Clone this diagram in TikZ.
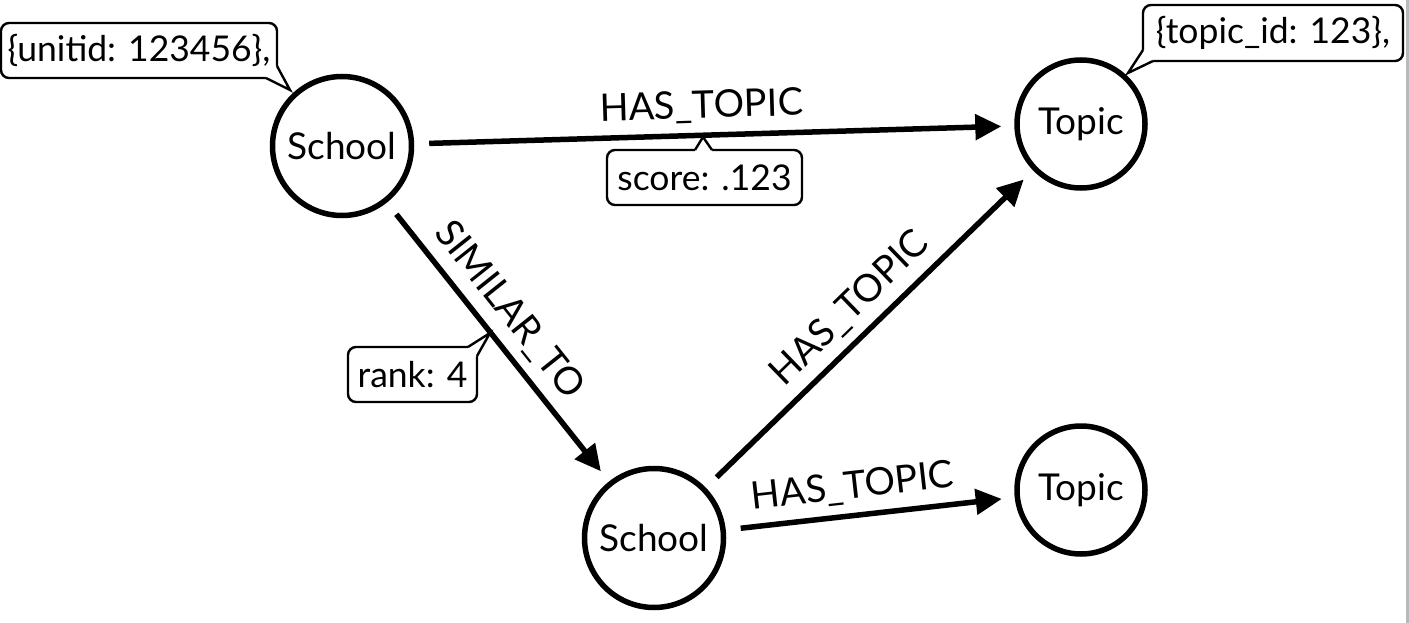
\documentclass[tikz,border=0pt]{standalone}
\usepackage{fontspec}
\setmainfont{Lato}
\usetikzlibrary{arrows.meta}
\begin{document}
\begin{tikzpicture}[x=1pt,y=-1pt,
  ent/.style={circle,draw,line width=5.5pt,inner sep=0pt,font=\fontsize{37}{44}\selectfont},
  rel/.style={line width=5.5pt,-{Triangle[length=26pt,width=25pt]},shorten <=15pt,shorten >=13pt},
  rlab/.style={sloped,above=9pt,inner sep=0pt,font=\fontsize{38}{44}\selectfont},
  prop/.style={draw,line width=2.4pt,rounded corners=8pt,inner sep=0pt,font=\fontsize{35.5}{42}\selectfont},
  ptr/.style={line width=2.4pt,line join=miter}
]
\useasboundingbox (0,0) rectangle (1409,623);
\fill[white] (0,0) rectangle (1409,623);
\fill[gray!55] (1406,0) rectangle (1409,623);

% entities
\node[ent,minimum size=139pt] (s1) at (342,146) {School};
\node[ent,minimum size=128pt] (t1) at (1081,124) {Topic};
\node[ent,minimum size=139pt] (s2) at (654,538) {School};
\node[ent,minimum size=128pt] (t2) at (1081,490) {Topic};

% relationships
\draw[rel] (s1) -- node[rlab,pos=0.48] (l1) {HAS\_TOPIC} (t1);
\draw[rel] (s1) -- node[rlab,pos=0.45] (l2) {SIMILAR\_TO} (s2);
\draw[rel] (s2) -- node[rlab,pos=0.5] (l3) {HAS\_TOPIC} (t1);
\draw[rel] (s2) -- node[rlab,pos=0.45] (l4) {HAS\_TOPIC} (t2);

% property callouts
\node[prop,minimum width=276pt,minimum height=55pt] (p1) at (139,50.5) {\{unitid: 123456\},};
\coordinate (p1tip) at (290,90);
\fill[white] (277,66) -- (p1tip) -- (266,78) -- (266,66) -- cycle;
\draw[ptr] (277,66) -- (p1tip) -- (266,78);

\node[prop,minimum width=260pt,minimum height=56pt] (p2) at (1273,33) {\{topic\_id: 123\},};
\coordinate (p2tip) at (1128,73);
\fill[white] (1143,50) -- (p2tip) -- (1153,61) -- (1153,50) -- cycle;
\draw[ptr] (1143,50) -- (p2tip) -- (1153,61);

\node[prop,minimum width=195pt,minimum height=55pt] (p3) at (704.5,177.5) {score: .123};
\coordinate (p3tip) at (703,137);
\fill[white] (695,150) -- (p3tip) -- (712,150) -- (712,154) -- (695,154) -- cycle;
\draw[ptr] (695,150) -- (p3tip) -- (712,150);

\node[prop,minimum width=129pt,minimum height=55pt] (p4) at (412.5,374.5) {rank: 4};
\coordinate (p4tip) at (490,333);
\fill[white] (468,347) -- (p4tip) -- (477,356) -- (468,356) -- cycle;
\draw[ptr] (468,347) -- (p4tip) -- (477,356);
\end{tikzpicture}
\end{document}
